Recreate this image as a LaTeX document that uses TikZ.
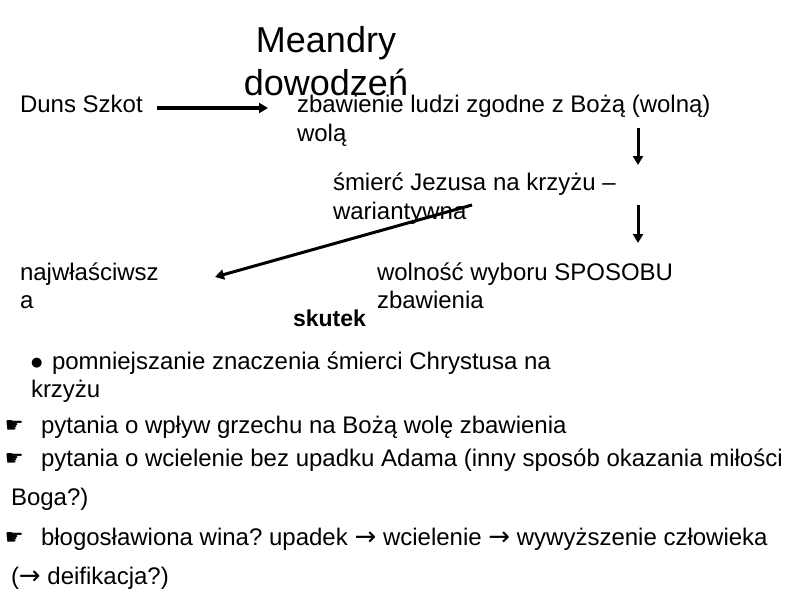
\documentclass[tikz,border=0pt]{standalone}
\usepackage{fontspec}
\setmainfont{Liberation Sans}
\newfontfamily\dejavu{DejaVu Sans}
\usetikzlibrary{arrows.meta}
\frenchspacing
\newcommand{\handglyph}{\raisebox{1pt}{\dejavu\fontsize{21}{21}\selectfont ☛}}
\newcommand{\bulglyph}{\raisebox{2.5pt}{\dejavu\fontsize{13}{13}\selectfont ●}}
\newcommand{\rarr}{{\dejavu\fontsize{26}{26}\selectfont →}}
\begin{document}
\begin{tikzpicture}[x=1pt,y=-1pt,
  txt/.style={anchor=base west, inner sep=0pt, outer sep=0pt, align=left, font=\fontsize{24}{29}\selectfont\frenchspacing},
  arr/.style={line width=3pt, -{Triangle[length=9pt,width=10pt]}},
  thickarr/.style={line width=4pt, -{Triangle[length=9pt,width=10pt]}}
]
\useasboundingbox (0,0) rectangle (800,600);
% texts (base anchor = baseline of the last line)
\node[anchor=base, inner sep=0pt, align=center, font=\fontsize{36}{43}\selectfont] (title) at (326,95) {Meandry\\dowodzeń};
\node[txt] (duns) at (20,112) {Duns Szkot};
\node[txt] (zbaw) at (297,141) {zbawienie ludzi zgodne z Bożą (wolną)\\wolą};
\node[txt] (smierc) at (333,219) {śmierć Jezusa na krzyżu –\\wariantywna};
\node[txt, font=\fontsize{24}{28}\selectfont] (najw) at (20,308) {najwłaściwsz\\a};
\node[txt, font=\fontsize{24}{28}\selectfont] (wolnosc) at (377,308) {wolność wyboru SPOSOBU\\zbawienia};
\node[txt, font=\bfseries\fontsize{23}{28}\selectfont] (skutek) at (293,326) {skutek};
% list
\node[txt, font=\fontsize{24}{28}\selectfont] (item1) at (31,397) {\makebox[21pt][l]{\bulglyph}pomniejszanie znaczenia śmierci Chrystusa na\\krzyżu};
\node[txt] (item2) at (5,433) {\makebox[36pt][l]{\handglyph}pytania o wpływ grzechu na Bożą wolę zbawienia};
\node[txt, font=\fontsize{24}{39}\selectfont\frenchspacing] (item3) at (11,505) {\hspace*{-6pt}\makebox[36pt][l]{\handglyph}pytania o wcielenie bez upadku Adama (inny sposób okazania miłości\\Boga?)};
\node[txt, font=\fontsize{24}{39}\selectfont\frenchspacing] (item4) at (11,584) {\hspace*{-6pt}\makebox[36pt][l]{\handglyph}błogosławiona wina? upadek \rarr{} wcielenie \rarr{} wywyższenie człowieka\\(\rarr{} deifikacja?)};
% arrow end points
\coordinate (d1) at (157,108);
\coordinate (d2) at (268,108);
\coordinate (v1) at (638,128);
\coordinate (v2) at (638,165);
\coordinate (v3) at (638,205);
\coordinate (v4) at (638,243);
\coordinate (g1) at (472,205);
\coordinate (g2) at (215,277);
% arrows
\draw[thickarr] (d1) -- (d2);
\draw[arr] (v1) -- (v2);
\draw[arr] (v3) -- (v4);
\draw[arr] (g1) -- (g2);
\end{tikzpicture}
\end{document}
